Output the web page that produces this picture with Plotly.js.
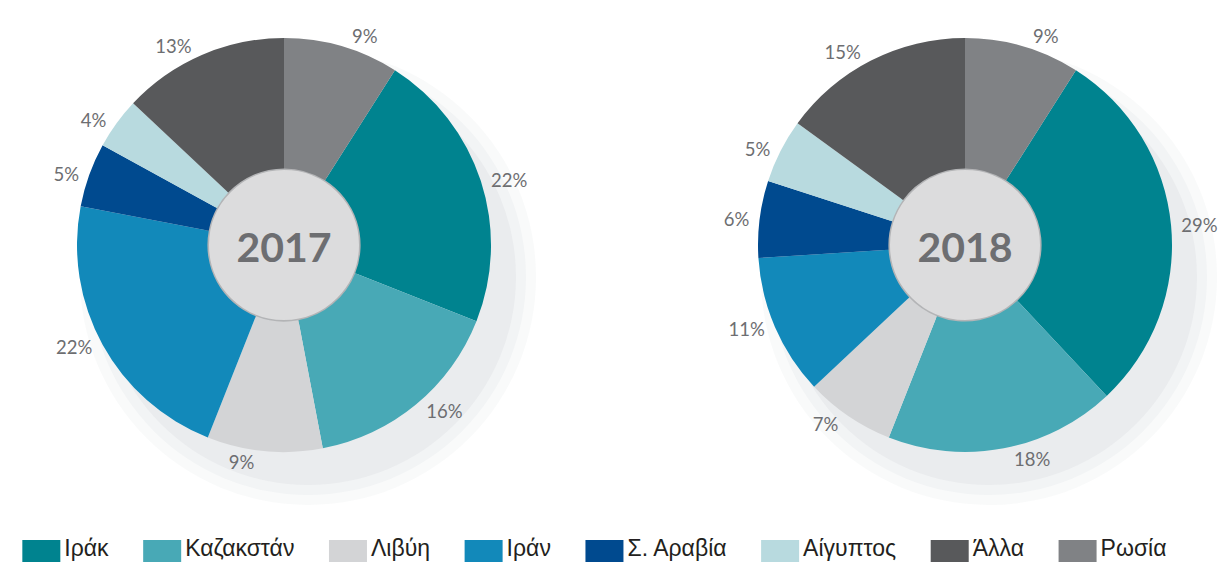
<!DOCTYPE html>
<html>
<head>
<meta charset="utf-8">
<script src="https://cdn.plot.ly/plotly-3.0.1.min.js"></script>
<style>html,body{margin:0;padding:0;background:#fff;overflow:hidden;} #chart{width:1222px;height:562px;}</style>
</head>
<body>
<div id="chart"></div>
<script>
// ---- data ----
const countries = ['Ιράκ', 'Καζακστάν', 'Λιβύη', 'Ιράν', 'Σ. Αραβία', 'Αίγυπτος', 'Άλλα', 'Ρωσία'];
const share2017 = [22, 16, 9, 22, 5, 4, 13, 9];
const share2018 = [29, 18, 7, 11, 6, 5, 15, 9];
const years = ['2017', '2018'];
const sliceColors = ['#00838f', '#48a9b6', '#d3d4d6', '#1289ba', '#004a8f', '#b8dadf', '#58595b', '#808285'];

// ---- layout helpers ----
const W = 1222, H = 562;
const centers = [[284, 245], [965, 245]];
const half = 207;            // half size of the pie domain in px
const holeR = 77;            // px radius of the centre disk
const labelFont = 'Lato, "Open Sans", sans-serif';
const pad = '\u00a0';
// legend entries get some trailing room so they spread like the original
const legendNames = countries.map(c => c + '\u00a0\u00a0\u00a0\u00a0');

function dom(c) {
  return {
    x: [(c[0] - half) / W, (c[0] + half) / W],
    y: [1 - (c[1] + half) / H, 1 - (c[1] - half) / H]
  };
}
function rot(vals) {
  const tot = vals.reduce((a, b) => a + b, 0);
  return vals[vals.length - 1] / tot * 360;
}

function pieTrace(vals, i) {
  return {
    type: 'pie',
    labels: legendNames,
    values: vals,
    sort: false,
    direction: 'clockwise',
    rotation: rot(vals),
    hole: 0.37,
    domain: dom(centers[i]),
    marker: {colors: sliceColors, line: {width: 0}},
    texttemplate: pad + '%{value}%' + pad,
    textposition: 'outside',
    outsidetextfont: {family: labelFont, size: 18.5, color: '#6d6e71'},
    title: {text: '<b>' + years[i] + '</b>', position: 'middle center',
            font: {family: labelFont, size: 41, color: '#6d6e71'}},
    showlegend: i === 0,
    hoverinfo: 'label+value'
  };
}

const shapes = [];
centers.forEach(c => {
  // soft drop shadow, lower right
  [[228, 0.03], [218, 0.035], [208, 0.045]].forEach(s => {
    shapes.push({type: 'circle', xref: 'paper', yref: 'paper', layer: 'below',
      x0: (c[0] + 24 - s[0]) / W, x1: (c[0] + 24 + s[0]) / W,
      y0: 1 - (c[1] + 32 + s[0]) / H, y1: 1 - (c[1] + 32 - s[0]) / H,
      fillcolor: 'rgba(70,80,100,' + s[1] + ')', line: {width: 0}});
  });
  // centre disk
  shapes.push({type: 'circle', xref: 'paper', yref: 'paper', layer: 'below',
    x0: (c[0] - holeR) / W, x1: (c[0] + holeR) / W,
    y0: 1 - (c[1] + holeR) / H, y1: 1 - (c[1] - holeR) / H,
    fillcolor: '#dcdcdd', line: {color: '#b3b4b6', width: 4}});
});

const layout = {
  width: W, height: H,
  margin: {l: 0, r: 0, t: 0, b: 0, autoexpand: false},
  paper_bgcolor: '#ffffff',
  shapes: shapes,
  showlegend: true,
  legend: {
    orientation: 'h', x: 0.015, xanchor: 'left', y: 0.0265, yanchor: 'middle',
    itemwidth: 36,
    font: {family: '"Liberation Sans Narrow", "Liberation Sans", Arial, sans-serif', size: 23, color: '#231f20'},
    traceorder: 'normal'
  }
};

Plotly.newPlot('chart', [pieTrace(share2017, 0), pieTrace(share2018, 1)], layout, {displayModeBar: false})
  .then(gd => {
    // enlarge the legend swatches to the wide blocks of the original
    gd.querySelectorAll('.legend .legendpoints path').forEach(p => {
      p.setAttribute('d', 'M19,20H-19V-7H19Z');
    });
  });
</script>
</body>
</html>
